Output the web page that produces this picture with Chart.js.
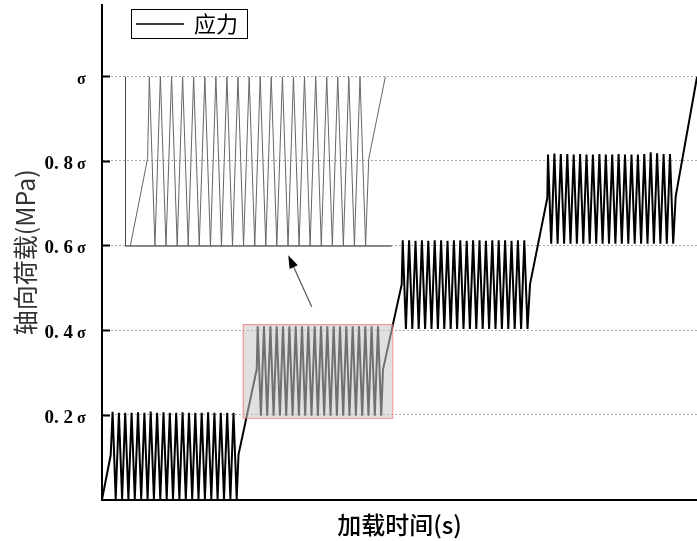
<!DOCTYPE html>
<html>
<head>
<meta charset="utf-8">
<script src="https://cdn.jsdelivr.net/npm/chart.js@4.4.1/dist/chart.umd.min.js"></script>
<style>
html, body { margin: 0; padding: 0; background: #fff; }
#wrap { position: relative; width: 697px; height: 541px; }
#main { position: absolute; left: 0; top: 0; }
#inset { position: absolute; left: 120px; top: 70px; }
</style>
</head>
<body>
<div id="wrap">
  <canvas id="main" width="697" height="541"></canvas>
  <canvas id="inset" width="280" height="182"></canvas>
</div>
<script>
/******* data (time in s, stress in units of sigma) *******/
const stage1Time = [0, 8.7, 10.6, 13.7, 16.9, 20.1, 23.2, 26.4, 29.6, 32.8, 36.0, 39.2, 42.4, 45.6, 48.7, 51.9,
    55.1, 58.3, 61.5, 64.7, 67.8, 71.0, 74.2, 77.4, 80.6, 83.8, 87.0, 90.2, 93.3, 96.5, 99.7, 102.9,
    106.1, 109.3, 112.4, 115.6, 118.8, 122.0, 125.2, 128.4, 131.5, 134.7, 136.5];
const stage1Stress = [0, 0.105, 0.207, 0.001, 0.205, 0.001, 0.205, 0.001, 0.205, 0.001, 0.206, 0.001, 0.205, 0.001, 0.208, 0.001,
    0.205, 0.001, 0.206, 0.001, 0.205, 0.001, 0.205, 0.001, 0.206, 0.001, 0.205, 0.001, 0.205, 0.001, 0.205, 0.001,
    0.206, 0.001, 0.205, 0.001, 0.205, 0.001, 0.205, 0.001, 0.205, 0.001, 0.106];

const stage2Time = [154.7, 155.7, 158.9, 162.0, 165.2, 168.4, 171.6, 174.7, 177.9, 181.0, 184.2, 187.4, 190.6, 193.7,
    196.9, 200.0, 203.2, 206.3, 209.5, 212.7, 215.9, 219.0, 222.2, 225.3, 228.5, 231.7, 234.9, 238.0,
    241.2, 244.3, 247.5, 250.7, 253.9, 257.0, 260.2, 263.3, 266.5, 269.6, 272.8, 276.0, 279.2, 281.0];
const stage2Stress = [0.307, 0.409, 0.198, 0.409, 0.198, 0.409, 0.198, 0.409, 0.198, 0.409, 0.198, 0.409, 0.198, 0.409,
    0.198, 0.409, 0.198, 0.409, 0.198, 0.409, 0.198, 0.409, 0.198, 0.409, 0.198, 0.409, 0.198, 0.409,
    0.198, 0.409, 0.198, 0.409, 0.198, 0.409, 0.198, 0.409, 0.198, 0.409, 0.198, 0.409, 0.198, 0.307];

const stage3Time = [299.7, 300.7, 303.9, 307.1, 310.3, 313.5, 316.7, 319.9, 323.1, 326.3, 329.5, 332.7, 335.9, 339.1,
    342.3, 345.5, 348.7, 351.9, 355.1, 358.3, 361.5, 364.7, 367.9, 371.1, 374.3, 377.5, 380.7, 383.9,
    387.1, 390.3, 393.5, 396.7, 399.9, 403.1, 406.3, 409.5, 412.7, 415.9, 419.1, 422.3, 425.5, 428.0];
const stage3Stress = [0.508, 0.612, 0.403, 0.612, 0.403, 0.611, 0.403, 0.612, 0.403, 0.611, 0.403, 0.612, 0.403, 0.612,
    0.403, 0.611, 0.403, 0.612, 0.403, 0.612, 0.403, 0.611, 0.403, 0.612, 0.403, 0.612, 0.403, 0.611,
    0.403, 0.612, 0.403, 0.612, 0.403, 0.612, 0.403, 0.611, 0.403, 0.612, 0.403, 0.612, 0.403, 0.508];

const stage4Time = [445.3, 446.0, 449.2, 452.4, 455.6, 458.8, 462.1, 465.3, 468.5, 471.7, 474.9, 478.1, 481.3, 484.5,
    487.7, 490.9, 494.2, 497.4, 500.6, 503.8, 507.0, 510.2, 513.4, 516.6, 519.8, 523.0, 526.3, 529.5,
    532.7, 535.9, 539.1, 542.3, 545.5, 548.7, 551.9, 555.1, 558.4, 561.6, 564.8, 568.0, 571.2, 573.7];
const stage4Stress = [0.712, 0.815, 0.604, 0.817, 0.604, 0.816, 0.604, 0.816, 0.604, 0.815, 0.604, 0.816, 0.604, 0.815,
    0.604, 0.815, 0.604, 0.816, 0.604, 0.815, 0.604, 0.815, 0.604, 0.816, 0.604, 0.815, 0.604, 0.815,
    0.604, 0.815, 0.604, 0.816, 0.604, 0.820, 0.604, 0.818, 0.604, 0.816, 0.604, 0.816, 0.604, 0.716];

const endTime = [595];
const endStress = [0.998];

const yTicks = [0.2, 0.4, 0.6, 0.8, 1.0];
const yTickLabels = ['0.2σ', '0.4σ', '0.6σ', '0.8σ', 'σ'];
const seriesLabel = '应力';

/******* layout / style constants *******/
const X_MAX = 595, Y_MAX = 1.168;
const INSET_X = [141.8, 294.1], INSET_Y = [0.198, 0.409];
const BOX = {x0: 140.7, x1: 290.3, y0: 0.193, y1: 0.414};
const ARROW = {x0: 209.7, y0: 0.455, x1: 186.3, y1: 0.577};
const CJK = '"Noto Sans CJK SC", "Noto Sans", sans-serif';
const SERIF = '"Liberation Serif", "DejaVu Serif", serif';

const allTime = [...stage1Time, ...stage2Time, ...stage3Time, ...stage4Time, ...endTime];
const allStress = [...stage1Stress, ...stage2Stress, ...stage3Stress, ...stage4Stress, ...endStress];
const points = allTime.map((t, i) => ({x: t, y: allStress[i]}));

/******* main chart extras *******/
const overlayPlugin = {
    id: 'overlay',
    afterDatasetsDraw(chart) {
        const {ctx, scales: {x, y}} = chart;
        // highlighted region
        const bx0 = x.getPixelForValue(BOX.x0), bx1 = x.getPixelForValue(BOX.x1);
        const by0 = y.getPixelForValue(BOX.y1), by1 = y.getPixelForValue(BOX.y0);
        ctx.save();
        ctx.fillStyle = 'rgba(200,200,200,0.56)';
        ctx.fillRect(bx0, by0, bx1 - bx0, by1 - by0);
        ctx.strokeStyle = 'rgba(240,120,120,0.85)';
        ctx.lineWidth = 1;
        ctx.strokeRect(bx0 + 0.5, by0 + 0.5, bx1 - bx0, by1 - by0);
        // arrow to the magnified view
        const ax0 = x.getPixelForValue(ARROW.x0), ay0 = y.getPixelForValue(ARROW.y0);
        const ax1 = x.getPixelForValue(ARROW.x1), ay1 = y.getPixelForValue(ARROW.y1);
        const ang = Math.atan2(ay1 - ay0, ax1 - ax0);
        const hl = 13, hw = 4.5;
        const bx = ax1 - hl * Math.cos(ang), byy = ay1 - hl * Math.sin(ang);
        ctx.strokeStyle = '#555';
        ctx.lineWidth = 1.2;
        ctx.beginPath();
        ctx.moveTo(ax0, ay0);
        ctx.lineTo(bx, byy);
        ctx.stroke();
        ctx.fillStyle = '#000';
        ctx.beginPath();
        ctx.moveTo(ax1, ay1);
        ctx.lineTo(bx + hw * Math.sin(ang), byy - hw * Math.cos(ang));
        ctx.lineTo(bx - hw * Math.sin(ang), byy + hw * Math.cos(ang));
        ctx.closePath();
        ctx.fill();
        ctx.restore();
    },
    afterDraw(chart) {
        const {ctx, chartArea, scales: {y}} = chart;
        ctx.save();
        // inner tick marks + labels
        yTicks.forEach((v, i) => {
            const py = Math.round(y.getPixelForValue(v)) + 0.5;
            ctx.strokeStyle = '#000';
            ctx.lineWidth = 2;
            ctx.beginPath();
            ctx.moveTo(chartArea.left, py);
            ctx.lineTo(chartArea.left + 8, py);
            ctx.stroke();
            const num = yTickLabels[i].replace('σ', '').replace('.', '. ');
            ctx.fillStyle = '#000';
            ctx.textBaseline = 'alphabetic';
            if (num) {
                ctx.font = 'bold 19px ' + SERIF;
                ctx.textAlign = 'right';
                ctx.fillText(num, 73, py + 7);
            }
            ctx.font = 'bold 16px ' + SERIF;
            ctx.textAlign = 'left';
            ctx.fillText('σ', 77, py + 7);
        });
        // legend
        ctx.strokeStyle = '#000';
        ctx.lineWidth = 1;
        ctx.strokeRect(131.5, 9.5, 116, 29);
        ctx.lineWidth = 1.5;
        ctx.beginPath();
        ctx.moveTo(136, 24);
        ctx.lineTo(184, 24);
        ctx.stroke();
        ctx.font = '22px ' + CJK;
        ctx.textAlign = 'left';
        ctx.textBaseline = 'middle';
        ctx.fillText(chart.data.datasets[0].label, 194, 24);
        ctx.restore();
    }
};

const mainChart = new Chart(document.getElementById('main'), {
    type: 'line',
    data: {
        datasets: [{
            label: seriesLabel,
            data: points,
            borderColor: '#000',
            borderWidth: 2,
            pointRadius: 0,
            tension: 0,
            fill: false
        }]
    },
    options: {
        responsive: false,
        animation: false,
        devicePixelRatio: 1,
        layout: {padding: {top: 5, right: 0, bottom: 0, left: 0}},
        plugins: {legend: {display: false}, tooltip: {enabled: false}},
        scales: {
            x: {
                type: 'linear', min: 0, max: X_MAX,
                ticks: {display: false},
                grid: {display: false},
                border: {color: '#000', width: 2},
                title: {display: true, text: '加载时间(s)', color: '#000',
                    font: {family: CJK, size: 24, weight: '500'}, padding: {top: 0, bottom: 2}},
                afterFit(s) { s.height = 41.5; }
            },
            y: {
                type: 'linear', min: 0, max: Y_MAX,
                afterBuildTicks(s) { s.ticks = yTicks.map(v => ({value: v})); },
                ticks: {display: false},
                grid: {color: '#aaa', lineWidth: 1, drawTicks: false},
                border: {color: '#000', width: 2, dash: [2, 2]},
                title: {display: true, text: '轴向荷载(MPa)', color: '#333',
                    font: {family: CJK, size: 25}, padding: {top: 10, bottom: 0}},
                afterFit(s) { s.width = 102; }
            }
        }
    },
    plugins: [overlayPlugin]
});

/******* magnified view of the second stage *******/
const insetFrame = {
    id: 'insetFrame',
    afterDraw(chart) {
        const {ctx, chartArea: a} = chart;
        ctx.save();
        ctx.strokeStyle = '#444';
        ctx.lineWidth = 1;
        ctx.beginPath();
        ctx.moveTo(a.left + 0.5, a.top);
        ctx.lineTo(a.left + 0.5, a.bottom);
        ctx.stroke();
        ctx.strokeStyle = '#666';
        ctx.lineWidth = 1.5;
        ctx.beginPath();
        ctx.moveTo(a.left, a.bottom);
        ctx.lineTo(a.right, a.bottom);
        ctx.stroke();
        ctx.restore();
    }
};

const insetChart = new Chart(document.getElementById('inset'), {
    type: 'line',
    data: {
        datasets: [{
            label: seriesLabel,
            data: points,
            borderColor: '#666',
            borderWidth: 1,
            pointRadius: 0,
            tension: 0,
            fill: false
        }]
    },
    options: {
        responsive: false,
        animation: false,
        devicePixelRatio: 1,
        layout: {padding: {left: 5, right: 8.3, top: 6.7, bottom: 6}},
        plugins: {legend: {display: false}, tooltip: {enabled: false}},
        scales: {
            x: {type: 'linear', min: INSET_X[0], max: INSET_X[1], display: false},
            y: {type: 'linear', min: INSET_Y[0], max: INSET_Y[1], display: false}
        }
    },
    plugins: [insetFrame]
});
</script>
</body>
</html>
